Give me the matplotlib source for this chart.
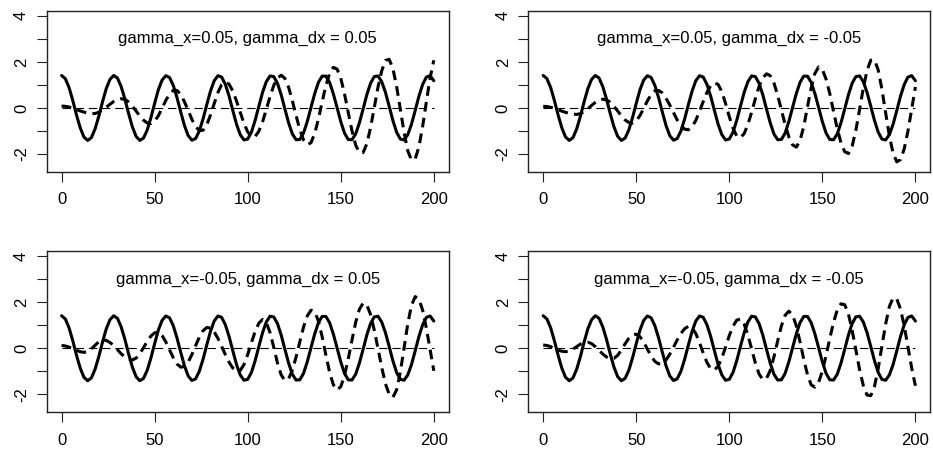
import matplotlib.pyplot as plt

plt.rcParams['font.family'] = 'Liberation Sans'
plt.rcParams['axes.unicode_minus'] = False
plt.rcParams['lines.scale_dashes'] = False

# tempo (passo 2)
t = list(range(0, 201, 2))

# serie x (linha cheia) - igual nos 4 paineis
x_serie = [
    1.41, 1.27, 0.89, 0.33, -0.30, -0.86, -1.26, -1.41, -1.29, -0.91,
    -0.36, 0.27, 0.84, 1.24, 1.41, 1.30, 0.93, 0.39, -0.24, -0.81,
    -1.23, -1.41, -1.31, -0.96, -0.42, 0.20, 0.79, 1.21, 1.40, 1.32,
    0.98, 0.45, -0.17, -0.76, -1.20, -1.40, -1.33, -1.00, -0.48, 0.14,
    0.73, 1.18, 1.40, 1.34, 1.02, 0.51, -0.11, -0.71, -1.16, -1.39,
    -1.35, -1.05, -0.54, 0.08, 0.68, 1.14, 1.39, 1.36, 1.07, 0.57,
    -0.05, -0.65, -1.13, -1.38, -1.37, -1.09, -0.59, 0.02, 0.62, 1.11,
    1.38, 1.38, 1.11, 0.62, 0.02, -0.59, -1.09, -1.37, -1.38, -1.13,
    -0.65, -0.05, 0.57, 1.07, 1.36, 1.39, 1.14, 0.68, 0.08, -0.54,
    -1.05, -1.35, -1.39, -1.16, -0.71, -0.11, 0.51, 1.02, 1.34, 1.40,
    1.18,
]

# series dx (tracejadas)
dx_1 = [
    0.08, 0.07, 0.04, -0.01, -0.07, -0.13, -0.18, -0.23, -0.25,
    -0.24, -0.19, -0.09, 0.03, 0.16, 0.28, 0.36, 0.40,
    0.37, 0.26, 0.08, -0.13, -0.35, -0.53, -0.65,
    -0.68, -0.57, -0.34, -0.01, 0.33, 0.60, 0.76,
    0.76, 0.59, 0.27, -0.11, -0.49, -0.81, -0.98,
    -0.97, -0.73, -0.31, 0.19, 0.67, 1.01, 1.13,
    1.03, 0.73, 0.30, -0.19, -0.67, -1.04, -1.24,
    -1.24, -1.01, -0.60, -0.06, 0.49, 0.98, 1.30, 1.42,
    1.28, 0.89, 0.31, -0.33, -0.94, -1.39, -1.59,
    -1.51, -1.11, -0.48, 0.26, 0.97, 1.50, 1.76,
    1.69, 1.29, 0.62, -0.19, -0.98, -1.61, -1.94,
    -1.94, -1.56, -0.86, 0.01, 0.90, 1.61, 2.06,
    2.11, 1.72, 0.94, -0.05, -1.05, -1.86, -2.26,
    -2.21, -1.69, -0.80, 0.27, 1.30, 2.07,
]

dx_2 = [
    0.07, 0.06, 0.03, -0.02, -0.07, -0.14, -0.19, -0.24, -0.27, -0.28,
    -0.25, -0.16, -0.04, 0.11, 0.24, 0.34, 0.38,
    0.35, 0.25, 0.07, -0.13, -0.34, -0.52, -0.63,
    -0.66, -0.56, -0.33, -0.02, 0.31, 0.58, 0.74,
    0.76, 0.65, 0.42, 0.13, -0.20, -0.52, -0.77, -0.92,
    -0.95, -0.82, -0.54, -0.14, 0.28, 0.68, 0.96, 1.09,
    1.02, 0.70, 0.19, -0.38, -0.88, -1.22,
    -1.29, -1.11, -0.72, -0.18, 0.40, 0.93, 1.31, 1.48,
    1.40, 1.08, 0.54, -0.09, -0.72, -1.26, -1.60,
    -1.70, -1.42, -0.80, 0.04, 0.88, 1.50, 1.78,
    1.67, 1.25, 0.62, -0.15, -0.90, -1.51, -1.90,
    -1.98, -1.66, -0.97, -0.07, 0.86, 1.62, 2.07,
    2.09, 1.65, 0.81, -0.21, -1.21, -1.96, -2.34,
    -2.24, -1.77, -1.00, -0.05, 0.91,
]

dx_3 = [
    0.12, 0.10, 0.05, -0.02, -0.09, -0.15, -0.18,
    -0.15, -0.03, 0.13, 0.28, 0.36,
    0.34, 0.25, 0.11, -0.06, -0.24, -0.38, -0.48,
    -0.51, -0.43, -0.24, 0.02, 0.30, 0.53, 0.67,
    0.69, 0.55, 0.28, -0.07, -0.41, -0.68, -0.82,
    -0.79, -0.60, -0.28, 0.11, 0.48, 0.76, 0.90,
    0.88, 0.71, 0.43, 0.08, -0.28, -0.61, -0.86, -0.99,
    -0.96, -0.71, -0.27, 0.24, 0.73, 1.09, 1.25,
    1.12, 0.68, 0.04, -0.64, -1.16, -1.40,
    -1.32, -0.95, -0.38, 0.28, 0.92, 1.40, 1.65,
    1.59, 1.18, 0.50, -0.29, -1.04, -1.58, -1.81,
    -1.67, -1.19, -0.47, 0.34, 1.12, 1.69, 1.96,
    1.88, 1.47, 0.79, -0.01, -0.83, -1.54, -1.99,
    -2.13, -1.81, -1.04, 0.00, 1.06, 1.86, 2.24,
    2.13, 1.65, 0.87, -0.05, -0.98,
]

dx_4 = [
    0.14, 0.12, 0.07, -0.01, -0.08, -0.13, -0.15,
    -0.12, -0.04, 0.07, 0.18, 0.24,
    0.26, 0.20, 0.07, -0.09, -0.25, -0.38, -0.45,
    -0.44, -0.31, -0.08, 0.19, 0.43, 0.58,
    0.61, 0.50, 0.27, -0.04, -0.34, -0.57, -0.68,
    -0.66, -0.51, -0.26, 0.04, 0.36, 0.64, 0.85, 0.95,
    0.89, 0.64, 0.24, -0.21, -0.62, -0.89,
    -0.94, -0.78, -0.42, 0.05, 0.55, 0.96, 1.22,
    1.27, 1.04, 0.57, -0.03, -0.64, -1.12, -1.36,
    -1.31, -0.96, -0.37, 0.32, 0.97, 1.43, 1.61,
    1.45, 0.97, 0.28, -0.48, -1.15, -1.59,
    -1.69, -1.48, -0.99, -0.32, 0.43, 1.12, 1.66, 1.93,
    1.89, 1.49, 0.78, -0.07, -0.93, -1.62, -2.03,
    -2.06, -1.66, -0.88, 0.09, 1.05, 1.81, 2.19,
    2.14, 1.70, 0.96, 0.06, -0.86, -1.63,
]

titulos = [
    "gamma_x=0.05, gamma_dx = 0.05",
    "gamma_x=0.05, gamma_dx = -0.05",
    "gamma_x=-0.05, gamma_dx = 0.05",
    "gamma_x=-0.05, gamma_dx = -0.05",
]
series_dx = [dx_1, dx_2, dx_3, dx_4]

x_ticks = [0, 50, 100, 150, 200]
y_ticks = [-2, -1, 0, 1, 2, 3, 4]
y_labels = ['-2', '', '0', '', '2', '', '4']

W, H = 933, 453
# caixas dos paineis em pixels: esquerda, topo
cantos = [(46.7, 10.7), (528.3, 10.7), (46.7, 251.0), (528.3, 251.0)]
larg, alt = 402.0, 161.3

fig = plt.figure(figsize=(W / 100, H / 100), dpi=100)

for (esq, topo), dx, titulo in zip(cantos, series_dx, titulos):
    ax = fig.add_axes([esq / W, 1 - (topo + alt) / H, larg / W, alt / H])
    ax.plot(t, x_serie, color='black', lw=2.2, solid_capstyle='round',
            solid_joinstyle='round')
    ax.plot(t, dx, color='black', lw=2.2, dashes=(7.0, 4.5),
            dash_capstyle='butt')
    ax.hlines(0, t[0], t[-1], color='black', lw=0.8, linestyles=(0, (6, 3.5)))
    ax.text(100, 3, titulo, ha='center', va='center', fontsize=12)

    ax.set_xlim(-8, 208)
    ax.set_ylim(-2.78, 4.22)
    ax.set_xticks(x_ticks)
    ax.set_yticks(y_ticks)
    ax.set_yticklabels(y_labels, rotation=90, va='center')
    ax.tick_params(length=7.2, width=0.8, labelsize=12, color='#222222')
    ax.tick_params(axis='x', pad=7.5)
    ax.tick_params(axis='y', pad=5.5)
    for sp in ax.spines.values():
        sp.set_linewidth(1.0)
        sp.set_color('#222222')

fig.savefig('out.png', dpi=100)
